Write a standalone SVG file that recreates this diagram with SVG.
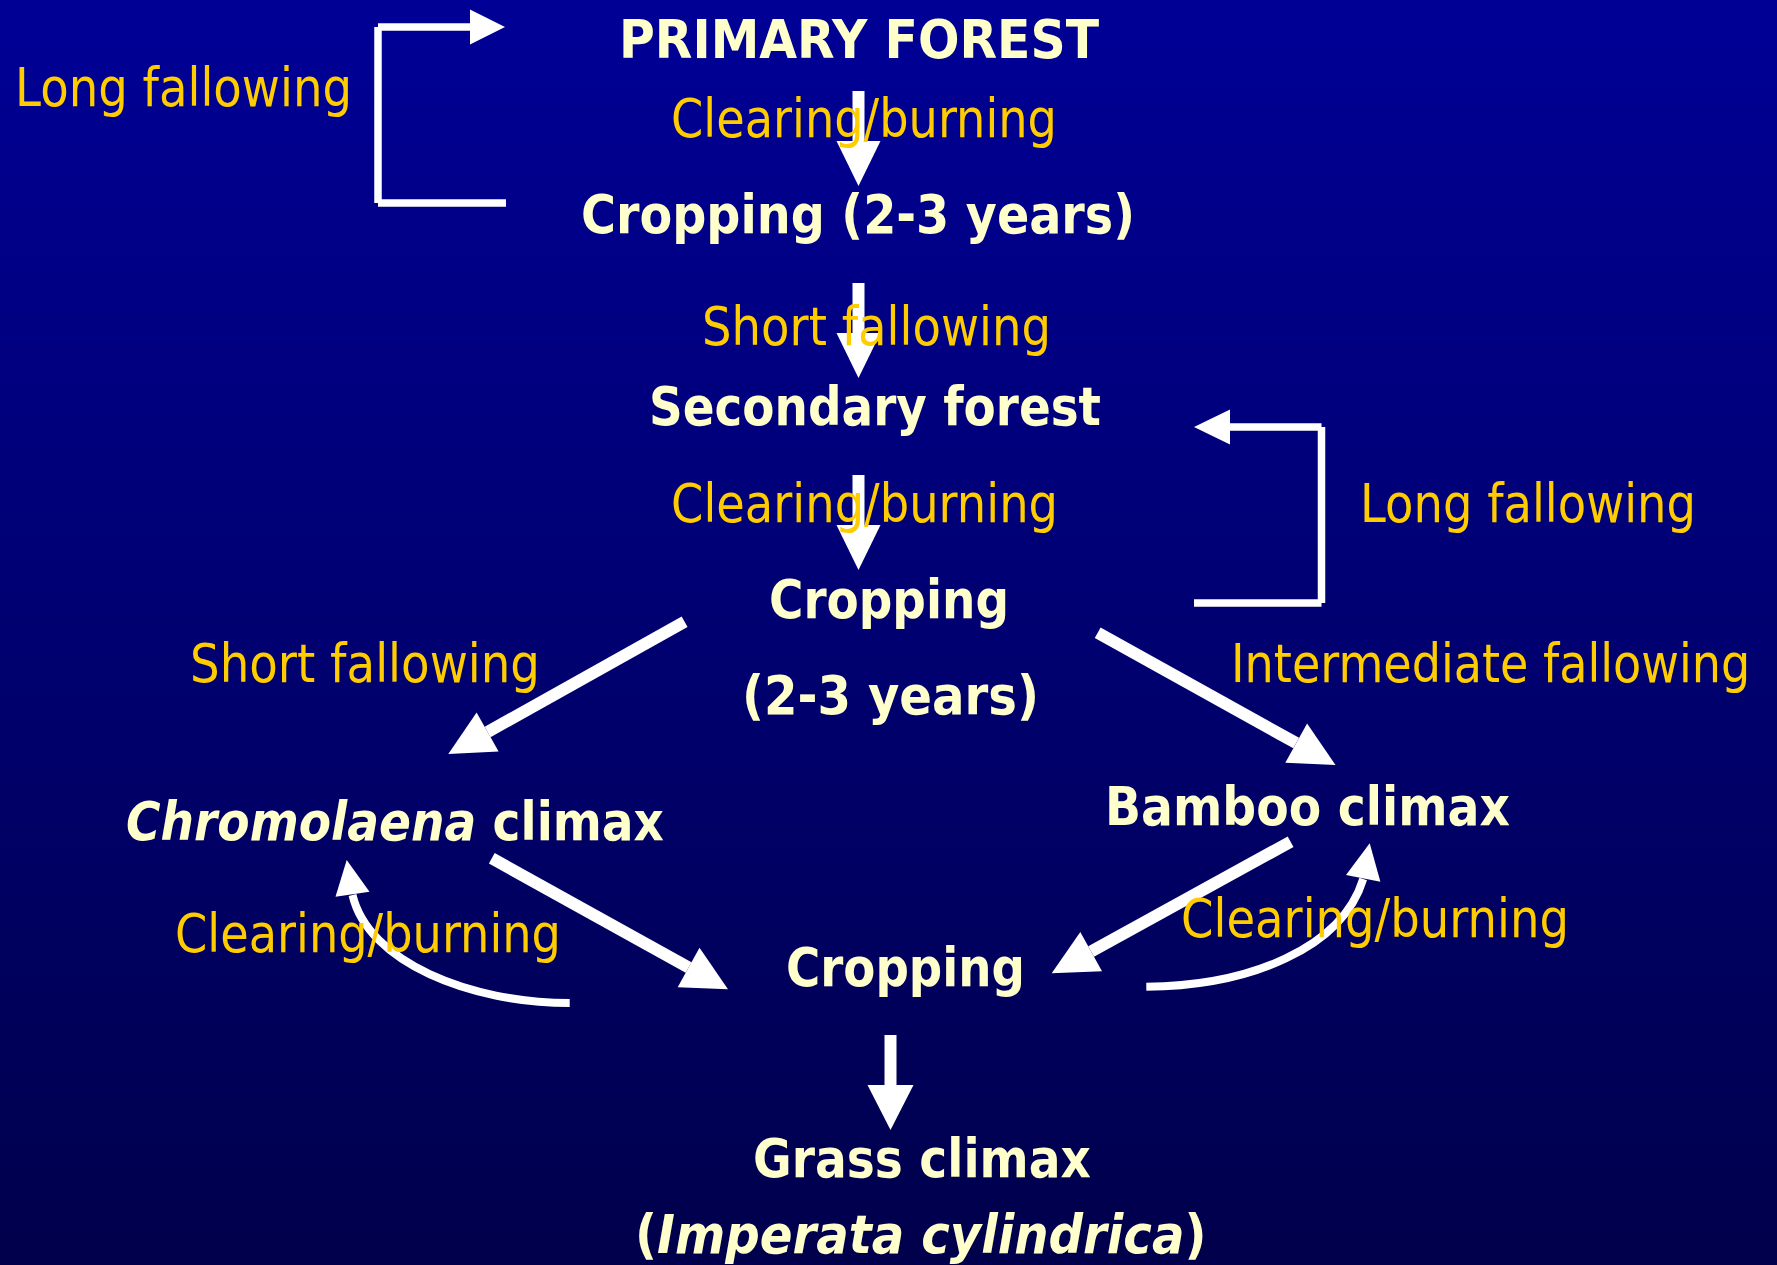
<svg xmlns="http://www.w3.org/2000/svg" width="1777" height="1265" viewBox="0 0 1777 1265">
<defs>
<linearGradient id="bg" x1="0" y1="0" x2="0" y2="1">
<stop offset="0" stop-color="#000096"/>
<stop offset="1" stop-color="#00004c"/>
</linearGradient>
<style>
.n{font-family:"DejaVu Sans","Verdana",sans-serif;font-weight:bold;font-size:54px;fill:#FFFFCC}
.i{font-style:italic}
.l{font-family:"DejaVu Sans","Verdana",sans-serif;font-size:53px;fill:#FFCC00}
.s{stroke:#FFFFFF;fill:none;stroke-linecap:butt}
.w{stroke-width:12}
.t{stroke-width:7.5}
.c{stroke-width:8}
.h{fill:#FFFFFF;stroke:none}
</style>
</defs>
<rect width="1777" height="1265" fill="url(#bg)"/>
<g id="connectors">
<g id="e-primary-cropping1">
<line class="s w" x1="858.5" y1="91" x2="858.5" y2="142"/>
<polygon class="h" points="836.5,141 880.5,141 858.5,186"/>
</g>
<g id="e-long-fallow-left">
<line class="s t" x1="506" y1="203" x2="378" y2="203"/>
<line class="s t" x1="378" y1="203" x2="378" y2="27"/>
<line class="s t" x1="378" y1="27" x2="471" y2="27"/>
<polygon class="h" points="470,9.5 470,44.5 505,27"/>
</g>
<g id="e-cropping1-secondary">
<line class="s w" x1="858.5" y1="283" x2="858.5" y2="334"/>
<polygon class="h" points="836.5,333 880.5,333 858.5,378"/>
</g>
<g id="e-secondary-cropping2">
<line class="s w" x1="858.5" y1="475" x2="858.5" y2="526"/>
<polygon class="h" points="836.5,525 880.5,525 858.5,570"/>
</g>
<g id="e-long-fallow-right">
<line class="s t" x1="1194" y1="603" x2="1321.5" y2="603"/>
<line class="s t" x1="1321.5" y1="603" x2="1321.5" y2="427"/>
<line class="s t" x1="1321.5" y1="427" x2="1229" y2="427"/>
<polygon class="h" points="1230,409.5 1230,444.5 1194,427"/>
</g>
<g id="e-cropping2-chromolaena">
<line class="s w" x1="684.6" y1="621.7" x2="487.6" y2="732"/>
<polygon class="h" points="498.6,751.6 476.6,712.4 448.3,754"/>
</g>
<g id="e-cropping2-bamboo">
<line class="s w" x1="1097.7" y1="632.7" x2="1296.2" y2="743.1"/>
<polygon class="h" points="1285.3,762.8 1307.1,723.4 1335.5,765"/>
</g>
<g id="e-chromolaena-cropping3">
<line class="s w" x1="491.8" y1="858.3" x2="688.6" y2="967.5"/>
<polygon class="h" points="677.7,987.2 699.5,947.8 728,989.3"/>
</g>
<g id="e-bamboo-cropping3">
<line class="s w" x1="1290.6" y1="841.7" x2="1091.1" y2="951.6"/>
<polygon class="h" points="1102,971.3 1080.3,931.9 1051.7,973.3"/>
</g>
<g id="e-cropping3-chromolaena">
<path class="s c" d="M569.7,1003 C470,1003 368,962 352.5,895"/>
<polygon class="h" points="335.5,896.7 369.5,891.7 346.7,860"/>
</g>
<g id="e-cropping3-bamboo">
<path class="s c" d="M1146.3,986.7 C1250,986 1342,948 1363.2,879"/>
<polygon class="h" points="1346,875 1380.4,881.7 1369.7,843.3"/>
</g>
<g id="e-cropping3-grass">
<line class="s w" x1="890.5" y1="1035" x2="890.5" y2="1086"/>
<polygon class="h" points="867.5,1085 913.5,1085 890.5,1130"/>
</g>
</g>
<g id="labels">
<text class="l" x="15" y="106" textLength="337" lengthAdjust="spacingAndGlyphs">Long fallowing</text>
<text class="l" x="671" y="137" textLength="386" lengthAdjust="spacingAndGlyphs">Clearing/burning</text>
<text class="l" x="702" y="345" textLength="349" lengthAdjust="spacingAndGlyphs">Short fallowing</text>
<text class="l" x="671" y="522" textLength="387" lengthAdjust="spacingAndGlyphs">Clearing/burning</text>
<text class="l" x="1360" y="522" textLength="336" lengthAdjust="spacingAndGlyphs">Long fallowing</text>
<text class="l" x="190" y="682" textLength="350" lengthAdjust="spacingAndGlyphs">Short fallowing</text>
<text class="l" transform="translate(1231,682) scale(0.87,1)">Intermediate fallowing</text>
<text class="l" x="175" y="952" textLength="386" lengthAdjust="spacingAndGlyphs">Clearing/burning</text>
<text class="l" x="1181" y="937" textLength="388" lengthAdjust="spacingAndGlyphs">Clearing/burning</text>
</g>
<g id="primary-forest">
<text class="n" x="619" y="58" textLength="480" lengthAdjust="spacingAndGlyphs">PRIMARY FOREST</text>
</g>
<g id="cropping-1">
<text class="n" x="581" y="233" textLength="554" lengthAdjust="spacingAndGlyphs">Cropping (2-3 years)</text>
</g>
<g id="secondary-forest">
<text class="n" x="649" y="425" textLength="452" lengthAdjust="spacingAndGlyphs">Secondary forest</text>
</g>
<g id="cropping-2">
<text class="n" x="769" y="618" textLength="240" lengthAdjust="spacingAndGlyphs">Cropping</text>
<text class="n" x="742" y="714" textLength="297" lengthAdjust="spacingAndGlyphs">(2-3 years)</text>
</g>
<g id="chromolaena-climax">
<text class="n" transform="translate(126,840) scale(0.872,1)"><tspan class="i">Chromolaena</tspan> climax</text>
</g>
<g id="bamboo-climax">
<text class="n" x="1105" y="825" textLength="405" lengthAdjust="spacingAndGlyphs">Bamboo climax</text>
</g>
<g id="cropping-3">
<text class="n" x="786" y="986" textLength="239" lengthAdjust="spacingAndGlyphs">Cropping</text>
</g>
<g id="grass-climax">
<text class="n" x="753" y="1177" textLength="338" lengthAdjust="spacingAndGlyphs">Grass climax</text>
<text class="n" transform="translate(635,1253) scale(0.893,1)">(<tspan class="i">Imperata cylindrica</tspan>)</text>
</g>
</svg>
